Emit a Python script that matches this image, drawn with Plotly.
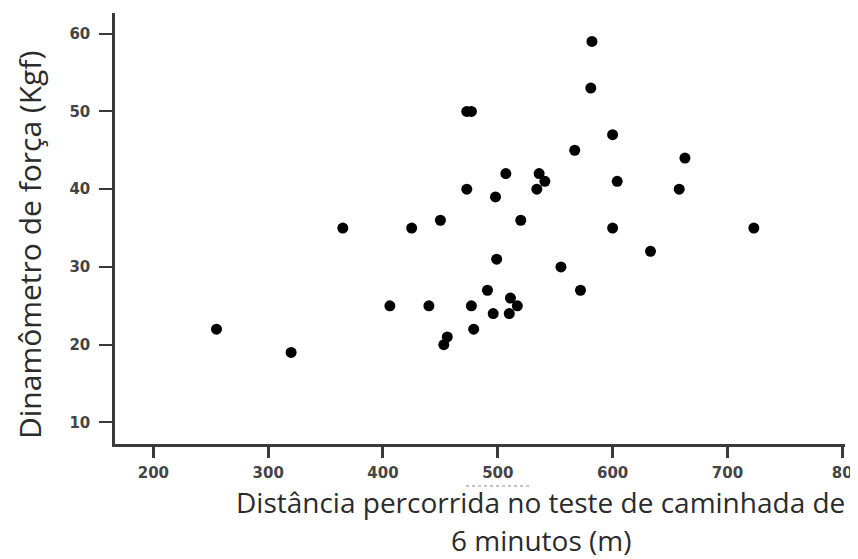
import plotly.graph_objects as go

# Data
distance_m = [255, 320, 365, 425, 450, 473, 477, 582, 581, 600, 567, 663, 507, 536,
              541, 534, 473, 498, 604, 658, 520, 600, 723, 633, 499, 555, 491, 572,
              440, 406, 477, 496, 510, 511, 517, 479, 456, 453]
force_kgf = [22, 19, 35, 35, 36, 50, 50, 59, 53, 47, 45, 44, 42, 42,
             41, 40, 40, 39, 41, 40, 36, 35, 35, 32, 31, 30, 27, 27,
             25, 25, 25, 24, 24, 26, 25, 22, 21, 20]
x_ticks = [200, 300, 400, 500, 600, 700, 800]
x_tick_labels = ["200", "300", "400", "500", "600", "700", "80"]
y_ticks = [10, 20, 30, 40, 50, 60]
y_tick_labels = ["10", "20", "30", "40", "50", "60"]

# the page body adds an 8px margin; size the figure so it fits the window
OFF = 8
W, H = 858 - OFF, 559 - OFF
L = 115 - OFF
T = 13 - OFF
R = W - (845 - OFF)
B = H - (444 - OFF)

fig = go.Figure(go.Scatter(
    x=distance_m, y=force_kgf, mode="markers",
    marker=dict(color="black", size=11, line=dict(width=0)),
    hoverinfo="x+y",
))

axis_color = "#3a3a3a"
tick_font = dict(family="DejaVu Sans, Verdana, sans-serif", size=15, color="#444444", weight="bold")

fig.update_layout(
    width=W, height=H,
    margin=dict(l=L, r=R, t=T, b=B, pad=0),
    plot_bgcolor="white", paper_bgcolor="white",
    showlegend=False,
    xaxis=dict(
        range=[166.6, 802.4], showgrid=False, zeroline=False,
        showline=True, linecolor=axis_color, linewidth=2.5,
        ticks="outside", ticklen=11, tickwidth=2.5, tickcolor=axis_color,
        tickvals=x_ticks, ticktext=x_tick_labels, tickfont=tick_font,
        ticklabelstandoff=2,
    ),
    yaxis=dict(
        range=[7.23, 62.65], showgrid=False, zeroline=False,
        showline=True, linecolor=axis_color, linewidth=2.5,
        ticks="outside", ticklen=13, tickwidth=2, tickcolor=axis_color,
        tickvals=y_ticks, ticktext=y_tick_labels, tickfont=tick_font,
        ticklabelstandoff=6,
    ),
)

title_font = dict(family="Open Sans, Noto Sans, sans-serif", size=28, color="#2b2b2b")
pw = W - L - R
ph = H - T - B


def px_x(p):
    return (p - OFF - L) / pw


def px_y(p):
    return 1 - (p - OFF - T) / ph


fig.add_annotation(text="Distância percorrida no teste de caminhada de",
                   xref="paper", yref="paper", x=px_x(540), y=px_y(502),
                   xanchor="center", yanchor="middle", showarrow=False, font=title_font)
fig.add_annotation(text="6 minutos (m)",
                   xref="paper", yref="paper", x=px_x(541), y=px_y(540),
                   xanchor="center", yanchor="middle", showarrow=False, font=title_font)
fig.add_annotation(text="Dinamômetro de força (Kgf)",
                   xref="paper", yref="paper", x=px_x(29), y=px_y(245),
                   xanchor="center", yanchor="middle", showarrow=False, textangle=-90,
                   font=dict(family="Open Sans, Noto Sans, sans-serif", size=30, color="#2b2b2b"))

# faint dotted mark above "rida no" seen in the reference
fig.add_shape(type="line", xref="paper", yref="paper",
              x0=px_x(466), x1=px_x(532), y0=px_y(486), y1=px_y(486),
              line=dict(color="#888888", width=1, dash="dot"))

fig.write_html("out.html")
